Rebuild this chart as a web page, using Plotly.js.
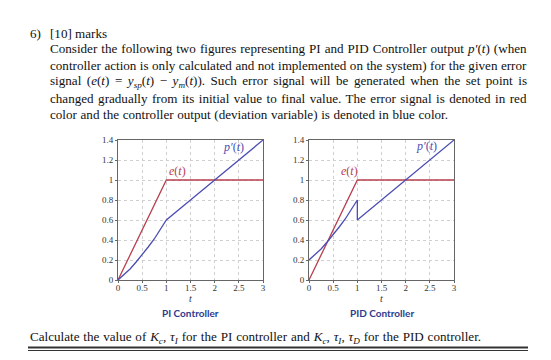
<!DOCTYPE html>
<html>
<head>
<meta charset="utf-8">
<script src="https://cdn.plot.ly/plotly-3.0.1.min.js"></script>
<style>html,body{margin:0;padding:0;background:#fff;}#chart{width:551px;height:360px;}</style>
</head>
<body>
<div id="chart"></div>
<script>
// ---- data ----
var errorT = [0, 1, 2, 3];
var errorVals = [0, 1, 1, 1];
var piT = [0, 0.125, 0.25, 0.375, 0.5, 0.625, 0.75, 0.875, 1, 1.5, 2, 2.5, 3];
var piOut = [0, 0.053, 0.11, 0.18, 0.25, 0.33, 0.41, 0.50, 0.6, 0.8, 1.0, 1.2, 1.4];
var pidT = [0, 0.125, 0.25, 0.375, 0.5, 0.625, 0.75, 0.875, 1, 1, 1.5, 2, 2.5, 3];
var pidOut = [0.2, 0.253, 0.31, 0.38, 0.45, 0.53, 0.61, 0.70, 0.8, 0.6, 0.8, 1.0, 1.2, 1.4];
var xTickVals = [0, 0.5, 1, 1.5, 2, 2.5, 3];
var xTickText = ["0", "0.5", "1", "1.5", "2", "2.5", "3"];
var yTickVals = [0, 0.2, 0.4, 0.6, 0.8, 1, 1.2, 1.4];
var yTickText = ["0", "0.2", "0.4", "0.6", "0.8", "1", "1.2", "1.4"];
var plotTitles = ["PI Controller", "PID Controller"];
var paragraphLines = [
  "Consider the following two figures representing PI and PID Controller output <i>p′</i>(<i>t</i>) (when",
  "controller action is only calculated and not implemented on the system) for the given error",
  "signal (<i>e</i>(<i>t</i>) = <i>y<sub>sp</sub></i>(<i>t</i>) − <i>y<sub>m</sub></i>(<i>t</i>)). Such error signal will be generated when the set point is",
  "changed gradually from its initial value to final value. The error signal is denoted in red",
  "color and the controller output (deviation variable) is denoted in blue color."
];
var questionLine = "Calculate the value of <i>K<sub>c</sub></i>, <i>τ<sub>I</sub></i> for the PI controller and <i>K<sub>c</sub></i>, <i>τ<sub>I</sub></i>, <i>τ<sub>D</sub></i> for the PID controller.";

// ---- layout helpers (pixel -> paper) ----
var W = 551, H = 360;
function px(x) { return x / W; }
function py(y) { return 1 - y / H; }

var RED = "#b8404e";
var BLUE = "#4b4db3";
var TITLEBLUE = "#2e3a8e";

var traces = [
  {x: errorT, y: errorVals, xaxis: "x", yaxis: "y", mode: "lines", line: {color: RED, width: 1.3}, hoverinfo: "skip"},
  {x: piT, y: piOut, xaxis: "x", yaxis: "y", mode: "lines", line: {color: BLUE, width: 1.3}, hoverinfo: "skip"},
  {x: errorT, y: errorVals, xaxis: "x2", yaxis: "y2", mode: "lines", line: {color: RED, width: 1.3}, hoverinfo: "skip"},
  {x: pidT, y: pidOut, xaxis: "x2", yaxis: "y2", mode: "lines", line: {color: BLUE, width: 1.3}, hoverinfo: "skip"}
];

function xAxis(domain, anchor) {
  return {
    domain: domain, anchor: anchor, range: [0, 3], tickvals: xTickVals, ticktext: xTickText,
    showgrid: true, gridcolor: "#cfcfcf", griddash: "dot", gridwidth: 1,
    showline: true, linecolor: "#666", linewidth: 1, mirror: true,
    ticks: "outside", ticklen: 2, tickcolor: "#666", ticklabelstandoff: -3,
    tickfont: {family: "Liberation Serif", size: 9, color: "#333"},
    zeroline: false, fixedrange: true
  };
}
function yAxis(domain, anchor) {
  return {
    domain: domain, anchor: anchor, range: [0, 1.4], tickvals: yTickVals, ticktext: yTickText,
    showgrid: true, gridcolor: "#cfcfcf", griddash: "dot", gridwidth: 1,
    showline: true, linecolor: "#666", linewidth: 1, mirror: true,
    ticks: "outside", ticklen: 2, tickcolor: "#666",
    tickfont: {family: "Liberation Serif", size: 9, color: "#333"},
    zeroline: false, fixedrange: true
  };
}

var yDom = [py(280), py(140)];
var annotations = [];
var textFont = {family: "Liberation Serif", size: 13.1, color: "#111"};
var targets = {}; // annotation index -> target line width in px (justified text)

annotations.push({xref: "paper", yref: "paper", x: px(27.5), y: py(33), xanchor: "left", yanchor: "middle",
  text: "6)", showarrow: false, font: textFont});
annotations.push({xref: "paper", yref: "paper", x: px(48), y: py(33), xanchor: "left", yanchor: "middle",
  text: "[10] marks", showarrow: false, font: textFont});
var lineYs = [49, 65.5, 82, 98.5, 115];
var lineTargets = [477, 477, 477, 477, 398];
for (var i = 0; i < paragraphLines.length; i++) {
  targets[annotations.length] = lineTargets[i];
  annotations.push({xref: "paper", yref: "paper", x: px(48), y: py(lineYs[i]), xanchor: "left", yanchor: "middle",
    align: "left", text: paragraphLines[i], showarrow: false, font: textFont});
}
targets[annotations.length] = 451;
annotations.push({xref: "paper", yref: "paper", x: px(27.5), y: py(337), xanchor: "left", yanchor: "middle",
  align: "left", text: questionLine, showarrow: false, font: textFont});

// axis titles "t"
annotations.push({xref: "paper", yref: "paper", x: px(190.5), y: py(298.5), xanchor: "center", yanchor: "middle",
  text: "<i>t</i>", showarrow: false, font: {family: "Liberation Serif", size: 10, color: "#333"}});
annotations.push({xref: "paper", yref: "paper", x: px(381.5), y: py(298.5), xanchor: "center", yanchor: "middle",
  text: "<i>t</i>", showarrow: false, font: {family: "Liberation Serif", size: 10, color: "#333"}});

// curve labels
var lblFont = function (c) { return {family: "Liberation Serif", size: 12, color: c}; };
annotations.push({xref: "x", yref: "y", x: 1.24, y: 1.085, text: "<i>e</i>(<i>t</i>)", showarrow: false, font: lblFont(RED)});
annotations.push({xref: "x", yref: "y", x: 2.38, y: 1.33, text: "<i>p′</i>(<i>t</i>)", showarrow: false, font: lblFont(BLUE)});
annotations.push({xref: "x2", yref: "y2", x: 0.83, y: 1.085, text: "<i>e</i>(<i>t</i>)", showarrow: false, font: lblFont(RED)});
annotations.push({xref: "x2", yref: "y2", x: 2.43, y: 1.34, text: "<i>p′</i>(<i>t</i>)", showarrow: false, font: lblFont(BLUE)});

// subplot titles
annotations.push({xref: "paper", yref: "paper", x: px(190.5), y: py(312.5), xanchor: "center", yanchor: "middle",
  text: "<b>" + plotTitles[0] + "</b>", showarrow: false, font: {family: "Lato", size: 10, color: TITLEBLUE}});
annotations.push({xref: "paper", yref: "paper", x: px(381.5), y: py(312.5), xanchor: "center", yanchor: "middle",
  text: "<b>" + plotTitles[1] + "</b>", showarrow: false, font: {family: "Lato", size: 10, color: TITLEBLUE}});

var shapes = [
  {type: "line", xref: "paper", yref: "paper", x0: px(28), x1: px(528), y0: py(347.5), y1: py(347.5), line: {color: "#333", width: 2}},
  {type: "line", xref: "paper", yref: "paper", x0: px(28), x1: px(528), y0: py(350.5), y1: py(350.5), line: {color: "#333", width: 1}}
];

var layout = {
  width: W, height: H, margin: {l: 0, r: 0, t: 0, b: 0},
  paper_bgcolor: "#fff", plot_bgcolor: "#fff", showlegend: false,
  xaxis: xAxis([px(118), px(263)], "y"),
  yaxis: yAxis(yDom, "x"),
  xaxis2: xAxis([px(309), px(454)], "y2"),
  yaxis2: yAxis(yDom, "x2"),
  annotations: annotations, shapes: shapes
};

Plotly.newPlot("chart", traces, layout, {displayModeBar: false, staticPlot: true}).then(function () {
  // emulate the justified paragraph: widen the word spacing of each full line
  var groups = document.querySelectorAll("#chart g.annotation");
  groups.forEach(function (g) {
    var idx = +g.getAttribute("data-index");
    if (!(idx in targets)) return;
    var t = g.querySelector("text.annotation-text");
    if (!t) return;
    var b0 = t.getBBox();
    var nSpaces = (t.textContent.match(/ /g) || []).length;
    if (!nSpaces) return;
    var extra = (targets[idx] - b0.width) / nSpaces;
    t.style.wordSpacing = extra.toFixed(2) + "px";
    var b1 = t.getBBox();
    var dx = b0.x - b1.x;
    if (Math.abs(dx) > 0.1) t.setAttribute("transform", "translate(" + dx.toFixed(2) + ",0)");
  });
});
</script>
</body>
</html>
